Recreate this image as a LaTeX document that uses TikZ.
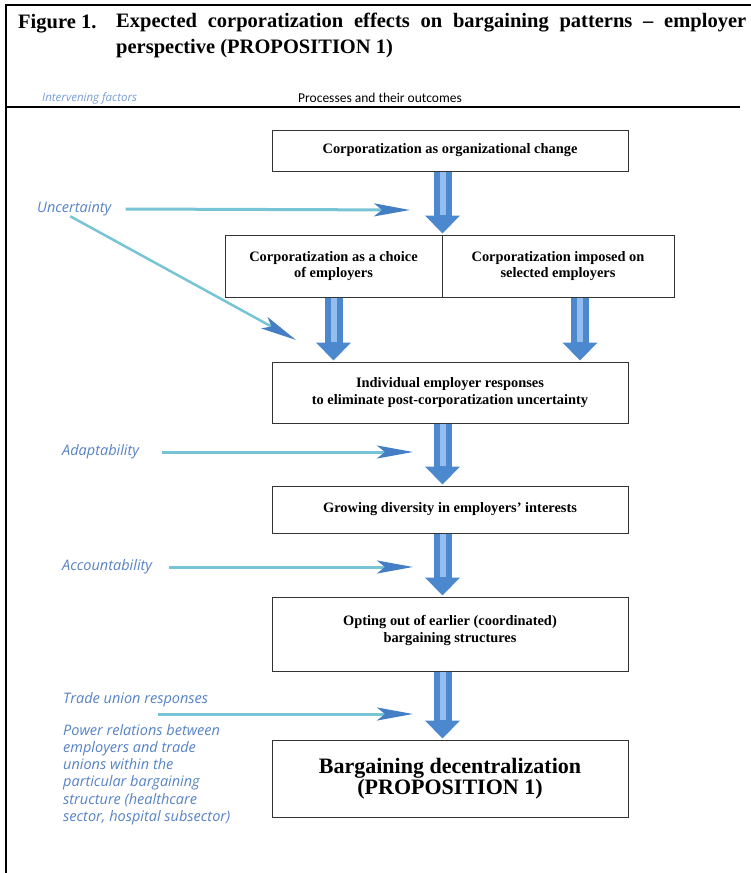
\documentclass[tikz,border=0pt]{standalone}
\usepackage{fontspec}
\setmainfont{Liberation Serif}
\newfontfamily\factorfont{Open Sans}
\newfontfamily\headfont{Carlito}
\usetikzlibrary{arrows.meta,positioning}
\definecolor{factorblue}{RGB}{86,130,198}
\definecolor{factorpale}{RGB}{120,158,212}
\definecolor{linecyan}{RGB}{118,196,214}
\definecolor{tipblue}{RGB}{68,126,196}
\definecolor{flowblue}{RGB}{76,136,206}
\definecolor{flowlight}{RGB}{150,190,236}

\begin{document}
\begin{tikzpicture}[x=1pt, y=-1pt,
  box/.style={draw=black!80, line width=1pt, minimum width=356pt, align=center,
              font=\fontsize{14.4}{16.5}\selectfont\bfseries, inner sep=2pt},
  factor/.style={anchor=west, inner sep=0pt, text=factorblue,
                 font=\factorfont\fontsize{14.5}{17.2}\selectfont\itshape},
  flow/.style={draw=flowblue, line width=18pt, shorten >=1pt,
               -{Triangle[width=34pt,length=18pt]},
               postaction={draw=flowlight, line width=6pt, shorten >=20pt, -}},
  push/.style={draw=linecyan, line width=3pt,
               -{Stealth[length=36pt,width=13pt,inset=8pt,color=tipblue]}}]
\useasboundingbox (0,0) rectangle (751,873);
% frame and header
\draw[line width=2pt] (6,873) -- (6,5) -- (751,5);
\node[anchor=base west, inner sep=0pt, font=\fontsize{20.5}{26}\selectfont\bfseries] (fig) at (18,28) {Figure 1.};
\node[anchor=north west, align=justify, text width=630pt, inner sep=0pt,
      font=\fontsize{20.5}{26}\selectfont\bfseries] (caption) at (116,13)
  {Expected corporatization effects on bargaining patterns – employer\linebreak perspective (PROPOSITION 1)};
\node[anchor=west, inner sep=0pt, text=factorpale,
      font=\factorfont\fontsize{11.5}{13}\selectfont\itshape] (factors) at (42,98) {Intervening factors};
\node[inner sep=0pt, font=\headfont\fontsize{13.5}{16}\selectfont] (processes) at (380,98) {Processes and their outcomes};
\draw[line width=1.2pt] (6,107) -- (740,107);

% processes
\node[box, minimum height=41pt] (change) at (450,150.5) {Corporatization as organizational change};
\node[box, minimum width=217pt, minimum height=62pt] (choice) at (333.5,266) {Corporatization as a choice\\of employers};
\node[box, minimum width=232pt, minimum height=62pt] (imposed) at (558,266) {Corporatization imposed on\\selected employers};
\node[box, minimum height=61pt] (respond) at (450,392.5) {Individual employer responses\\to eliminate post-corporatization uncertainty};
\node[box, minimum height=47pt] (diverse) at (450,509.5) {Growing diversity in employers' interests};
\node[box, minimum height=74pt, text depth=10pt] (optout) at (450,634) {Opting out of earlier (coordinated)\\bargaining structures};
\node[box, minimum height=77pt, font=\fontsize{22}{21}\selectfont\bfseries] (decentral) at (450,778.5) {Bargaining decentralization\\(PROPOSITION 1)};

\draw[flow] (change.south -| choice.east) -- (choice.north east);
\draw[flow] (choice.south) -- (choice.south |- respond.north);
\draw[flow] ([xshift=22pt]imposed.south) -- ([xshift=22pt]imposed.south |- respond.north);
\draw[flow] (respond.south -| choice.east) -- (diverse.north -| choice.east);
\draw[flow] (diverse.south -| choice.east) -- (optout.north -| choice.east);
\draw[flow] (optout.south -| choice.east) -- (decentral.north -| choice.east);

% intervening factors
\node[factor] (uncert) at (37,209) {Uncertainty};
\node[factor] (adapt) at (62,452) {Adaptability};
\node[factor] (account) at (62,567) {Accountability};
\node[factor] (union) at (63,700) {Trade union responses};
\node[factor, anchor=north west, align=left] (power) at (63,724)
  {Power relations between\\employers and trade\\unions within the\\particular bargaining\\structure (healthcare\\sector, hospital subsector)};
\coordinate (u-tip) at (410,210);
\coordinate (d-tip) at (296,340);
\coordinate (a-tip) at (413,452);
\coordinate (c-tip) at (413,567);
\coordinate (t-start) at (158,714);
\coordinate (t-tip) at (413,714);
\draw[push] ([xshift=14pt]uncert.east) -- (u-tip);
\draw[push, line width=2.5pt] ([xshift=-4pt]uncert.south) -- (d-tip);
\draw[push] ([xshift=23pt]adapt.east) -- (a-tip);
\draw[push] ([xshift=17pt]account.east) -- (c-tip);
\draw[push] (t-start) -- (t-tip);
\end{tikzpicture}
\end{document}
